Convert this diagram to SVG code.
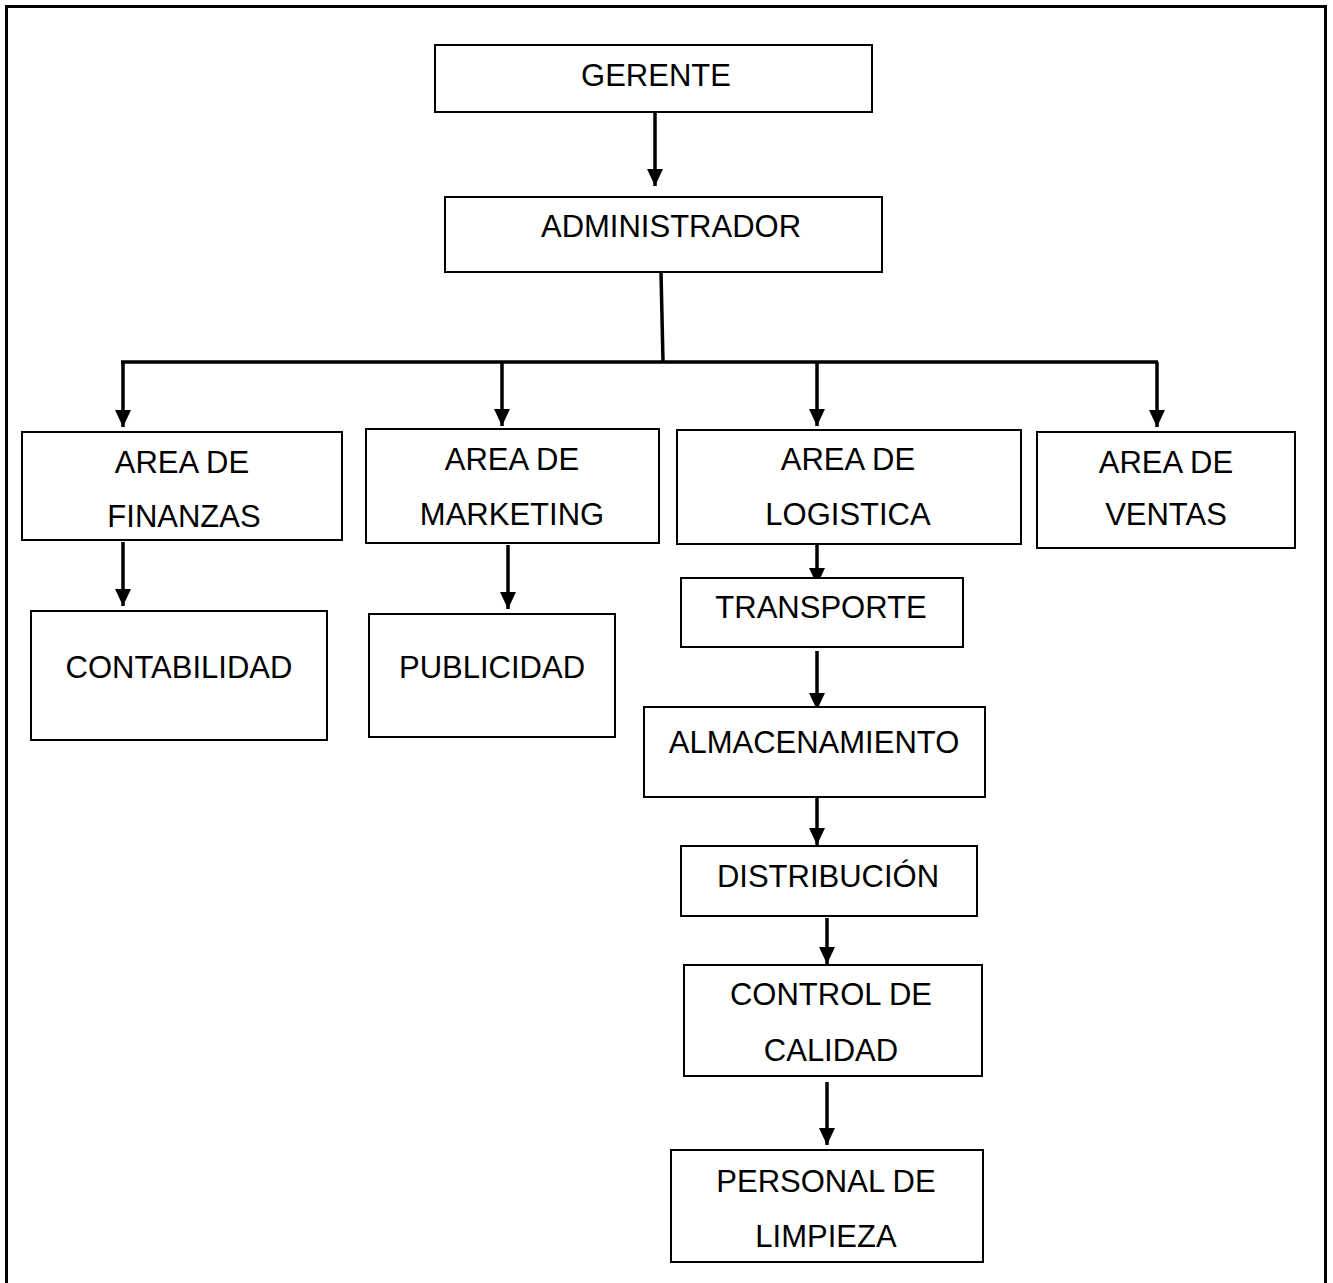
<svg xmlns="http://www.w3.org/2000/svg" width="1333" height="1283" viewBox="0 0 1333 1283">
<style>
.box{fill:#fff;stroke:#000;stroke-width:2}
.t{font-family:"Liberation Sans",Arial,sans-serif;font-size:31px;fill:#000;text-anchor:middle}
.c{stroke:#000;stroke-width:3.5;fill:none}
.a{stroke:#000;stroke-width:3.5;fill:none;marker-end:url(#ah)}
</style>
<defs>
<marker id="ah" markerUnits="userSpaceOnUse" markerWidth="17" markerHeight="16" refX="17" refY="8" orient="auto" viewBox="0 0 17 16">
<path d="M0,0 L17,8 L0,16 z" fill="#000"/>
</marker>
</defs>
<rect width="1333" height="1283" fill="#fff"/>
<rect x="6.5" y="6.5" width="1319" height="1290" fill="none" stroke="#000" stroke-width="3"/>
<g id="connectors">
<line class="a" x1="655" y1="112" x2="655" y2="186"/>
<line class="c" x1="661" y1="272" x2="663" y2="362"/>
<line class="c" x1="121" y1="362" x2="1158" y2="362"/>
<line class="a" x1="123" y1="362" x2="123" y2="427"/>
<line class="a" x1="502" y1="362" x2="502" y2="426"/>
<line class="a" x1="817" y1="362" x2="817" y2="426"/>
<line class="a" x1="1157" y1="362" x2="1157" y2="427"/>
<line class="a" x1="123" y1="542" x2="123" y2="606"/>
<line class="a" x1="508" y1="545" x2="508" y2="609"/>
<line class="a" x1="817" y1="542" x2="817" y2="585"/>
<line class="a" x1="817" y1="651" x2="817" y2="710"/>
<line class="a" x1="817" y1="798" x2="817" y2="845"/>
<line class="a" x1="827" y1="918" x2="827" y2="964"/>
<line class="a" x1="827" y1="1082" x2="827" y2="1145"/>
</g>
<g id="gerente"><rect class="box" x="435" y="45" width="437" height="67"/><text class="t" x="656" y="86">GERENTE</text></g>
<g id="administrador"><rect class="box" x="445" y="197" width="437" height="75"/><text class="t" x="671" y="237">ADMINISTRADOR</text></g>
<g id="finanzas"><rect class="box" x="22" y="432" width="320" height="108"/><text class="t" x="182" y="473">AREA DE</text><text class="t" x="184" y="527">FINANZAS</text></g>
<g id="marketing"><rect class="box" x="366" y="429" width="293" height="114"/><text class="t" x="512" y="470">AREA DE</text><text class="t" x="512" y="525">MARKETING</text></g>
<g id="logistica"><rect class="box" x="677" y="430" width="344" height="114"/><text class="t" x="848" y="470">AREA DE</text><text class="t" x="848" y="525">LOGISTICA</text></g>
<g id="ventas"><rect class="box" x="1037" y="432" width="258" height="116"/><text class="t" x="1166" y="473">AREA DE</text><text class="t" x="1166" y="525">VENTAS</text></g>
<g id="contabilidad"><rect class="box" x="31" y="611" width="296" height="129"/><text class="t" x="179" y="678">CONTABILIDAD</text></g>
<g id="publicidad"><rect class="box" x="369" y="614" width="246" height="123"/><text class="t" x="492" y="678">PUBLICIDAD</text></g>
<g id="transporte"><rect class="box" x="681" y="578" width="282" height="69"/><text class="t" x="821" y="618">TRANSPORTE</text></g>
<g id="almacenamiento"><rect class="box" x="644" y="707" width="341" height="90"/><text class="t" x="814" y="753">ALMACENAMIENTO</text></g>
<g id="distribucion"><rect class="box" x="681" y="846" width="296" height="70"/><text class="t" x="828" y="887">DISTRIBUCIÓN</text></g>
<g id="control"><rect class="box" x="684" y="965" width="298" height="111"/><text class="t" x="831" y="1005">CONTROL DE</text><text class="t" x="831" y="1061">CALIDAD</text></g>
<g id="personal"><rect class="box" x="671" y="1150" width="312" height="112"/><text class="t" x="826" y="1192">PERSONAL DE</text><text class="t" x="826" y="1247">LIMPIEZA</text></g>
</svg>
